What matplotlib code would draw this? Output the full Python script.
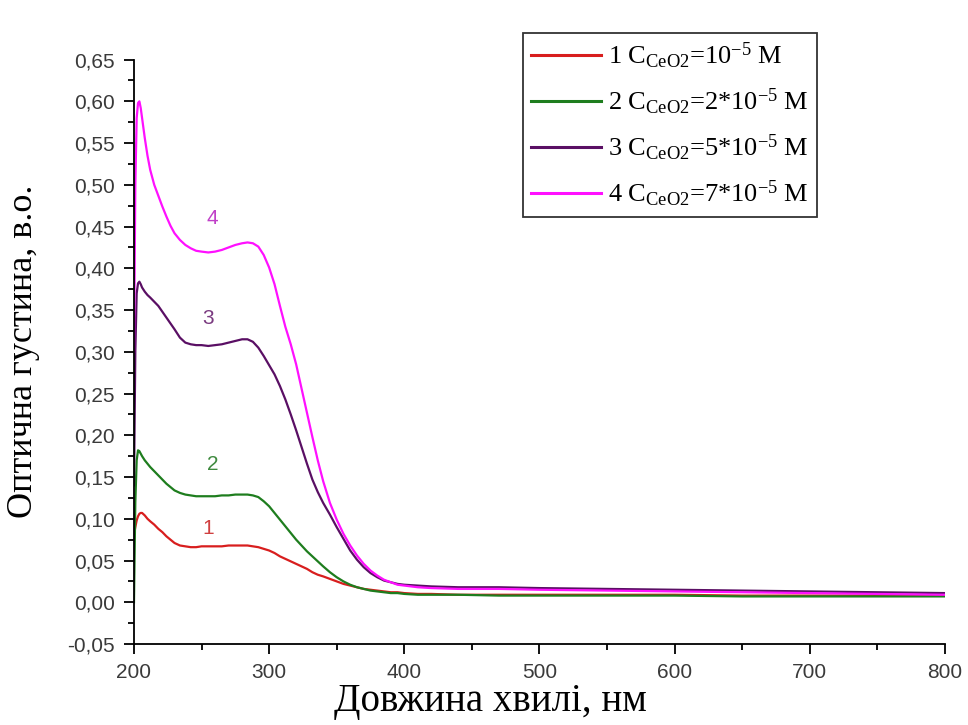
import matplotlib
matplotlib.use("Agg")
import matplotlib.pyplot as plt
from matplotlib.ticker import MultipleLocator, FuncFormatter

plt.rcParams["mathtext.fontset"] = "custom"
plt.rcParams["mathtext.rm"] = "Liberation Serif"
plt.rcParams["mathtext.it"] = "Liberation Serif:italic"

# Wavelength grid, nm
wavelength = [200, 201, 202, 203, 204, 205, 206, 208, 210, 212,
              215, 218, 221, 224, 227, 230, 234, 238, 242, 246,
              250, 255, 260, 265, 270, 275, 280, 284, 288, 292,
              296, 300, 304, 308, 312, 316, 320, 324, 328, 332,
              336, 340, 345, 350, 355, 360, 365, 370, 375, 380,
              385, 390, 395, 400, 410, 420, 440, 470, 500, 550,
              600, 650, 700, 750, 800]

# Optical density of the four CeO2 sols
od_1 = [0.080, 0.090, 0.098, 0.103, 0.106, 0.107, 0.107, 0.104, 0.100, 0.097,
        0.093, 0.088, 0.084, 0.079, 0.075, 0.071, 0.068, 0.067, 0.066, 0.066,
        0.067, 0.067, 0.067, 0.067, 0.068, 0.068, 0.068, 0.068, 0.067, 0.066,
        0.064, 0.062, 0.059, 0.055, 0.052, 0.049, 0.046, 0.043, 0.040, 0.036,
        0.033, 0.031, 0.028, 0.025, 0.022, 0.020, 0.018, 0.016, 0.015, 0.014,
        0.013, 0.012, 0.012, 0.011, 0.010, 0.010, 0.009, 0.009, 0.009, 0.009,
        0.009, 0.008, 0.008, 0.008, 0.008]
od_2 = [0.000, 0.120, 0.170, 0.182, 0.181, 0.178, 0.175, 0.170, 0.166, 0.162,
        0.157, 0.152, 0.147, 0.142, 0.138, 0.134, 0.131, 0.129, 0.128, 0.127,
        0.127, 0.127, 0.127, 0.128, 0.128, 0.129, 0.129, 0.129, 0.128, 0.126,
        0.121, 0.115, 0.107, 0.099, 0.091, 0.083, 0.075, 0.068, 0.061, 0.055,
        0.049, 0.043, 0.036, 0.030, 0.025, 0.021, 0.018, 0.016, 0.014, 0.013,
        0.012, 0.011, 0.011, 0.010, 0.009, 0.009, 0.009, 0.008, 0.008, 0.008,
        0.008, 0.007, 0.007, 0.007, 0.007]
od_3 = [0.140, 0.300, 0.370, 0.382, 0.384, 0.381, 0.377, 0.372, 0.368, 0.365,
        0.360, 0.355, 0.348, 0.341, 0.334, 0.327, 0.317, 0.311, 0.309, 0.308,
        0.308, 0.307, 0.308, 0.309, 0.311, 0.313, 0.315, 0.315, 0.312, 0.305,
        0.295, 0.284, 0.273, 0.259, 0.243, 0.225, 0.206, 0.186, 0.166, 0.147,
        0.132, 0.119, 0.105, 0.090, 0.076, 0.062, 0.051, 0.042, 0.035, 0.030,
        0.026, 0.024, 0.022, 0.021, 0.020, 0.019, 0.018, 0.018, 0.017, 0.016,
        0.015, 0.014, 0.013, 0.012, 0.011]
od_4 = [0.300, 0.500, 0.580, 0.598, 0.600, 0.592, 0.580, 0.556, 0.535, 0.518,
        0.500, 0.487, 0.474, 0.462, 0.451, 0.442, 0.434, 0.428, 0.424, 0.421,
        0.420, 0.419, 0.420, 0.422, 0.425, 0.428, 0.430, 0.431, 0.430, 0.426,
        0.416, 0.401, 0.381, 0.355, 0.330, 0.309, 0.285, 0.256, 0.227, 0.198,
        0.170, 0.145, 0.119, 0.099, 0.082, 0.068, 0.056, 0.046, 0.038, 0.032,
        0.027, 0.024, 0.021, 0.020, 0.018, 0.017, 0.016, 0.016, 0.015, 0.014,
        0.013, 0.012, 0.011, 0.010, 0.009]

series = [od_1, od_2, od_3, od_4]
labels = [r"1 C$_{\mathregular{CeO2}}$=10$^{\mathregular{-5}}$ M",
          r"2 C$_{\mathregular{CeO2}}$=2*10$^{\mathregular{-5}}$ M",
          r"3 C$_{\mathregular{CeO2}}$=5*10$^{\mathregular{-5}}$ M",
          r"4 C$_{\mathregular{CeO2}}$=7*10$^{\mathregular{-5}}$ M"]
colors = ["#d81e1e", "#1e7d1e", "#5a0f64", "#ff10ff"]
text_colors = ["#d04040", "#3f8a3f", "#7a3a80", "#c040c8"]

# Curve number annotations: (wavelength, optical density)
tag_names = ["1", "2", "3", "4"]
tag_x = [255, 258, 255, 258]
tag_y = [0.088, 0.165, 0.340, 0.460]

fig = plt.figure(figsize=(9.68, 7.25), dpi=100)
ax = fig.add_axes([0.1384, 0.1117, 0.8377, 0.8061])

for y, c, lab in zip(series, colors, labels):
    ax.plot(wavelength, y, color=c, lw=1.6, label=lab)

for t, tx, ty, tc in zip(tag_names, tag_x, tag_y, text_colors):
    ax.text(tx, ty, t, color=tc, fontsize=15, family="Liberation Sans",
            ha="center", va="center")

ax.set_xlim(200, 800)
ax.set_ylim(-0.05, 0.65)
ax.xaxis.set_major_locator(MultipleLocator(100))
ax.xaxis.set_minor_locator(MultipleLocator(50))
ax.yaxis.set_major_locator(MultipleLocator(0.05))
ax.yaxis.set_minor_locator(MultipleLocator(0.025))
ax.yaxis.set_major_formatter(FuncFormatter(lambda v, p: f"{v:.2f}".replace(".", ",").replace("-0,00", "0,00")))

for side in ("top", "right"):
    ax.spines[side].set_visible(False)
for side in ("left", "bottom"):
    ax.spines[side].set_linewidth(1.3)

ax.tick_params(which="major", direction="out", length=7, width=1.3, pad=7,
               labelsize=15, colors="black", labelcolor="#3a3a3a")
ax.tick_params(which="minor", direction="out", length=4, width=1.3)
for lbl in ax.get_xticklabels() + ax.get_yticklabels():
    lbl.set_family("Liberation Sans")

ax.set_xlabel("Довжина хвилі, нм", family="Liberation Serif", fontsize=28)
ax.set_ylabel("Оптична густина, в.о.", family="Liberation Serif", fontsize=26)
ax.xaxis.set_label_coords(0.439, -0.066)
ax.yaxis.set_label_coords(-0.116, 0.5)

leg = ax.legend(loc="upper left", bbox_to_anchor=(523 / 968, 1 - 33 / 725),
                bbox_transform=fig.transFigure, frameon=True, fancybox=False,
                prop={"family": "Liberation Serif", "size": 19}, handlelength=2.65,
                handletextpad=0.27, labelspacing=0.6, borderpad=0.3, borderaxespad=0)
leg.get_frame().set_edgecolor("black")
leg.get_frame().set_linewidth(1.3)
for h in leg.get_lines():
    h.set_linewidth(2.2)

fig.savefig("out.png", dpi=100)
